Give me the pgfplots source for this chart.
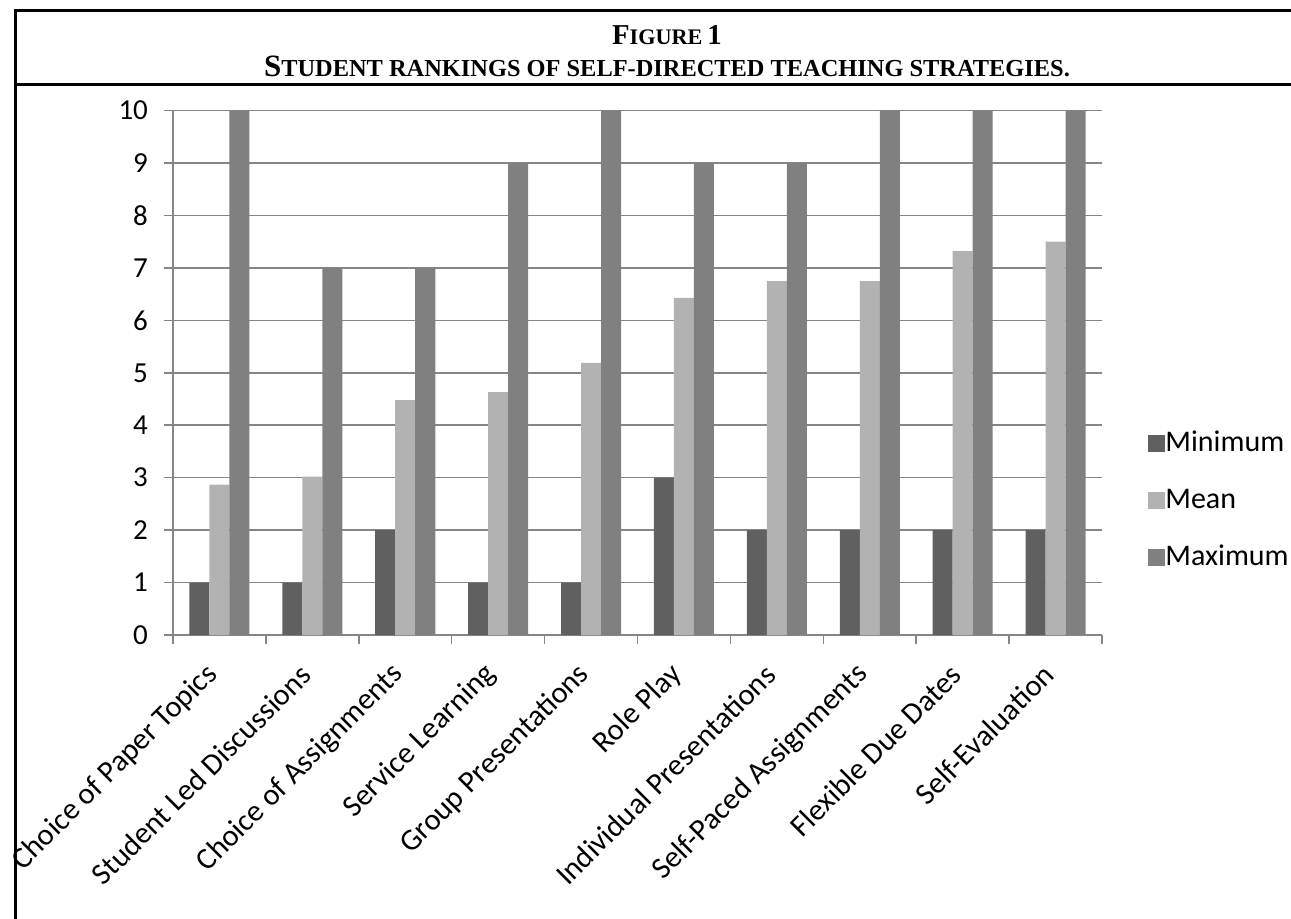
\documentclass[border=0pt]{standalone}
\usepackage{pgfplots}
\pgfplotsset{compat=1.18}
\usepackage{pgfplotstable}
\usepackage{fontspec}
\setmainfont{Carlito}
\newfontfamily\titlefont{Liberation Serif}
\definecolor{cmin}{HTML}{606060}
\definecolor{cmean}{HTML}{B2B2B2}
\definecolor{cmax}{HTML}{808080}
\definecolor{gridc}{HTML}{868686}
\pgfplotstableread{
x min mean max
1 1 2.87 10
2 1 3.02 7
3 2 4.48 7
4 1 4.63 9
5 1 5.19 10
6 3 6.43 9
7 2 6.75 9
8 2 6.75 10
9 2 7.32 10
10 2 7.50 10
}\datatab
\newcommand\tbig[1]{{\fontsize{14.4}{16}\selectfont #1}}
\newcommand\tsm[1]{{\fontsize{11.1}{13}\selectfont #1}}
\newcommand\sbig[1]{{\fontsize{15.5}{17}\selectfont #1}}
\newcommand\ssm[1]{{\fontsize{12.2}{14}\selectfont #1}}
\begin{document}
\begin{tikzpicture}
\useasboundingbox (0,0) rectangle (645.5pt,459pt);
\begin{scope}[x=0.5pt,y=0.5pt]
\draw[line width=1.5pt,line cap=rect] (15,-20) -- (15,907) -- (1340,907);
\draw[line width=1.5pt] (15,833) -- (1340,833);
\node[anchor=base,inner sep=0pt] at (667,873) {\titlefont\bfseries\tbig{F}\tsm{IGURE} \tbig{1}};
\node[anchor=base,inner sep=0pt] at (667,841) {\titlefont\bfseries\sbig{S}\ssm{TUDENT RANKINGS OF SELF-DIRECTED TEACHING STRATEGIES.}};
\end{scope}
\begin{axis}[
  at={(86.5pt,141.5pt)}, anchor=south west,
  scale only axis, width=464.5pt, height=262.2pt,
  xmin=0.5, xmax=10.5, ymin=0, ymax=10,
  ybar=0pt, bar width=10pt,
  axis x line*=bottom, axis y line*=left,
  axis line style={gridc, line width=0.75pt, -},
  ytick={0,1,...,10},
  ymajorgrids, grid style={gridc, line width=0.75pt},
  xtick={0.5,1.5,...,10.5}, xticklabels={},
  tick align=outside, major tick length=4.5pt,
  tick style={gridc, line width=0.75pt},
  extra x ticks={1,2,...,10},
  extra x tick labels={Choice of Paper Topics, Student Led Discussions, Choice of Assignments, Service Learning, Group Presentations, Role Play, Individual Presentations, Self-Paced Assignments, Flexible Due Dates, Self-Evaluation},
  extra x tick style={major tick length=0pt, grid=none,
     tick label style={rotate=45, anchor=east, inner sep=0pt, xshift=-14.5pt, yshift=-10pt, font=\fontsize{15.2}{18}\selectfont}},
  /pgf/number format/assume math mode=true,
  yticklabel style={font=\fontsize{14.5}{17}\selectfont, xshift=-4.5pt},
  legend style={at={(1.0495,0.2556)}, anchor=west, draw=none, fill=none, inner sep=0pt,
     font=\fontsize{15}{17}\selectfont, row sep=15pt,
     nodes={text height=10.5pt, text depth=3pt, inner sep=0pt, anchor=west},
     /tikz/every even column/.append style={column sep=5pt}},
  legend cell align=left,
]
\addplot[fill=cmin, draw=none, legend image code/.code={\fill[cmin] (0pt,-4.25pt) rectangle (8.5pt,4.25pt);}] table[x=x,y=min] {\datatab};
\addplot[fill=cmean, draw=none, legend image code/.code={\fill[cmean] (0pt,-4.25pt) rectangle (8.5pt,4.25pt);}] table[x=x,y=mean] {\datatab};
\addplot[fill=cmax, draw=none, legend image code/.code={\fill[cmax] (0pt,-4.25pt) rectangle (8.5pt,4.25pt);}] table[x=x,y=max] {\datatab};
\legend{Minimum, Mean, Maximum}
\end{axis}
\end{tikzpicture}
\end{document}
